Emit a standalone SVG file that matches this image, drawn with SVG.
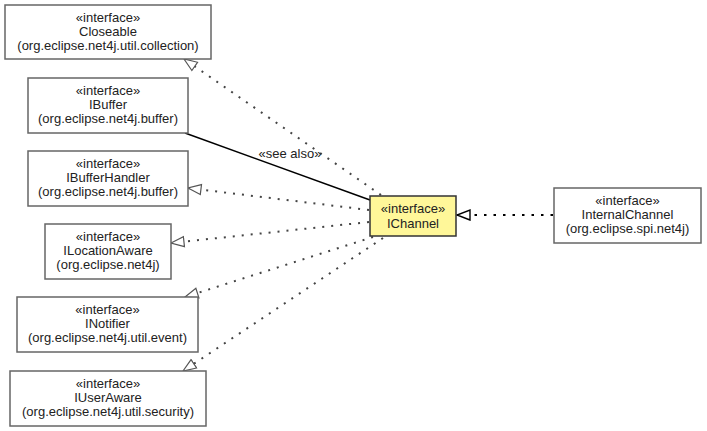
<svg xmlns="http://www.w3.org/2000/svg" width="707" height="431" viewBox="0 0 707 431">
  <style>
    .box { fill: #ffffff; stroke: #666666; stroke-width: 1.5; }
    .focus { fill: #fff799; stroke: #333333; stroke-width: 1.5; }
    text { font-family: "Liberation Sans", Arial, sans-serif; font-size: 13px; fill: #222222; text-anchor: middle; }
    .real { fill: none; stroke: #444444; stroke-width: 2; stroke-dasharray: 2 7; stroke-linecap: butt; }
    .realbold { fill: none; stroke: #000000; stroke-width: 2.2; stroke-dasharray: 2.5 7; }
    .assoc { fill: none; stroke: #000000; stroke-width: 1.5; }
  </style>
  <defs>
    <marker id="hollow" markerUnits="userSpaceOnUse" markerWidth="16" markerHeight="14" viewBox="-1 -7 16 14" refX="13" refY="0" orient="auto">
      <path d="M0,-5 L13,0 L0,5 Z" fill="#ffffff" stroke="#555555" stroke-width="1.2"/>
    </marker>
    <marker id="hollowDark" markerUnits="userSpaceOnUse" markerWidth="16" markerHeight="14" viewBox="-1 -7 16 14" refX="13" refY="0" orient="auto">
      <path d="M0,-5 L13,0 L0,5 Z" fill="#ffffff" stroke="#000000" stroke-width="1.4"/>
    </marker>
  </defs>

  <g id="connectors">
    <line class="real" x1="381" y1="195" x2="184" y2="59" marker-end="url(#hollow)"/>
    <line class="assoc" x1="185" y1="133" x2="370" y2="200"/>
    <text x="290" y="158">«see also»</text>
    <line class="real" x1="369" y1="210" x2="188" y2="188" marker-end="url(#hollow)"/>
    <line class="real" x1="369" y1="222" x2="171" y2="243" marker-end="url(#hollow)"/>
    <line class="real" x1="373" y1="237" x2="185" y2="297" marker-end="url(#hollow)"/>
    <line class="real" x1="383" y1="238" x2="183" y2="371" marker-end="url(#hollow)"/>
    <line class="realbold" x1="553" y1="215" x2="457" y2="215" marker-end="url(#hollowDark)"/>
  </g>

  <g id="Closeable">
    <rect class="box" x="5" y="5" width="206" height="54"/>
    <text x="108" y="21.5">«interface»</text>
    <text x="108" y="35.5">Closeable</text>
    <text x="108" y="49.5">(org.eclipse.net4j.util.collection)</text>
  </g>

  <g id="IBuffer">
    <rect class="box" x="28" y="78" width="160" height="55"/>
    <text x="108" y="94.5">«interface»</text>
    <text x="108" y="108.5">IBuffer</text>
    <text x="108" y="122.5">(org.eclipse.net4j.buffer)</text>
  </g>

  <g id="IBufferHandler">
    <rect class="box" x="28" y="151" width="160" height="55"/>
    <text x="108" y="167.5">«interface»</text>
    <text x="108" y="181.5">IBufferHandler</text>
    <text x="108" y="195.5">(org.eclipse.net4j.buffer)</text>
  </g>

  <g id="ILocationAware">
    <rect class="box" x="45" y="224" width="126" height="55"/>
    <text x="108" y="240.5">«interface»</text>
    <text x="108" y="254.5">ILocationAware</text>
    <text x="108" y="268.5">(org.eclipse.net4j)</text>
  </g>

  <g id="INotifier">
    <rect class="box" x="17" y="297" width="181" height="55"/>
    <text x="107.5" y="313.5">«interface»</text>
    <text x="107.5" y="327.5">INotifier</text>
    <text x="107.5" y="341.5">(org.eclipse.net4j.util.event)</text>
  </g>

  <g id="IUserAware">
    <rect class="box" x="10" y="371" width="196" height="55"/>
    <text x="108" y="387.5">«interface»</text>
    <text x="108" y="401.5">IUserAware</text>
    <text x="108" y="415.5">(org.eclipse.net4j.util.security)</text>
  </g>

  <g id="IChannel">
    <rect class="focus" x="370" y="196" width="86" height="40"/>
    <text x="413" y="212.5">«interface»</text>
    <text x="413" y="227.5">IChannel</text>
  </g>

  <g id="InternalChannel">
    <rect class="box" x="554" y="188" width="147" height="55"/>
    <text x="627.5" y="204.5">«interface»</text>
    <text x="627.5" y="218.5">InternalChannel</text>
    <text x="627.5" y="232.5">(org.eclipse.spi.net4j)</text>
  </g>
</svg>
